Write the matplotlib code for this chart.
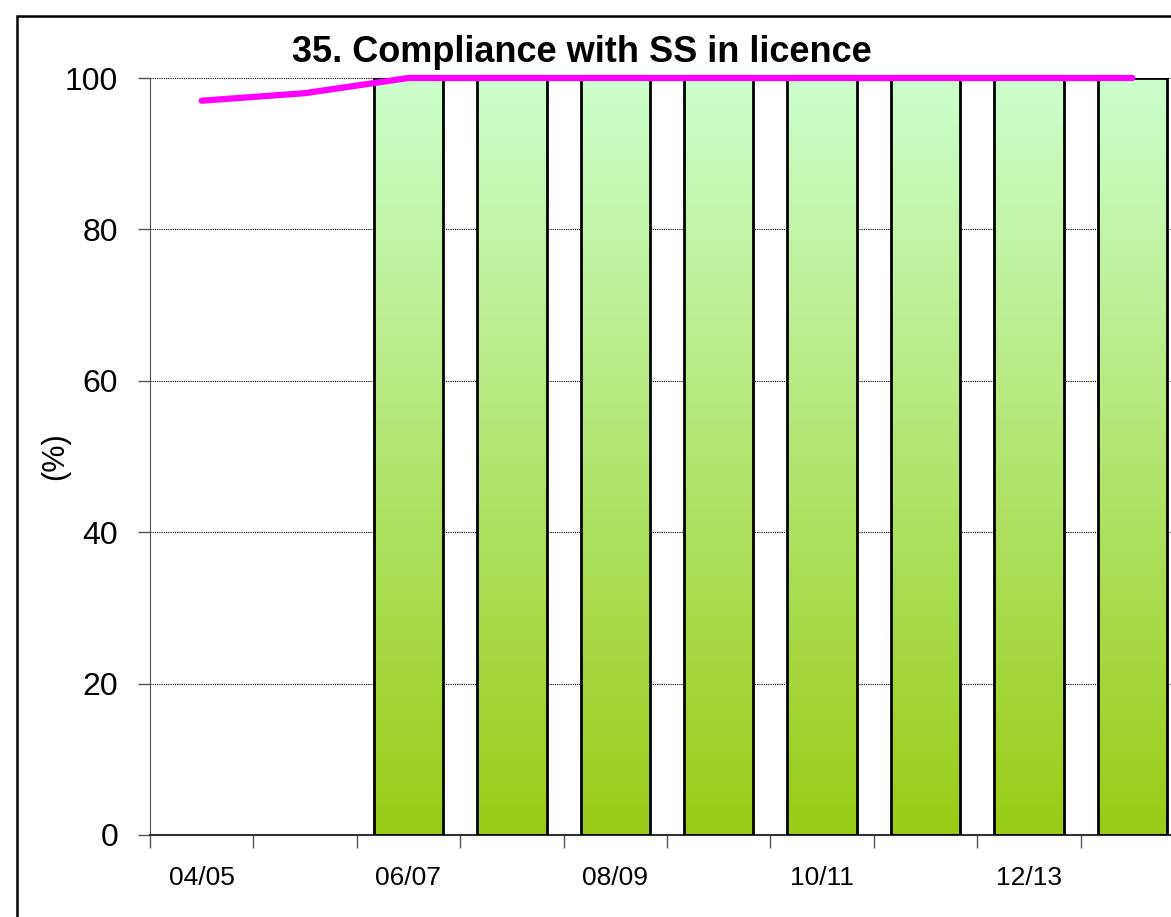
'''
35. Compliance with SS in licence - bars with a trend line
'''
import matplotlib
matplotlib.use('Agg')
import matplotlib.pyplot as plt
import numpy as np
from matplotlib.colors import LinearSegmentedColormap
from matplotlib.patches import Rectangle

## DATA
years = ['04/05', '05/06', '06/07', '07/08', '08/09',
         '09/10', '10/11', '11/12', '12/13', '13/14']
bar_vals = [np.nan, np.nan, 100, 100, 100, 100, 100, 100, 100, 100]
line_vals = [97, 98, 100, 100, 100, 100, 100, 100, 100, 100]
yticks = [0, 20, 40, 60, 80, 100]

plt.rcParams['font.family'] = ['Liberation Sans', 'DejaVu Sans']

fig = plt.figure(figsize=(11.71, 9.17), dpi=100)
## axes run past the right edge of the figure, as in the original
ax = fig.add_axes([150/1171, 82/917, 1034/1171, 757/917])

x = np.arange(len(years))
bw = 0.67

## gradient fill for the bars
cmap = LinearSegmentedColormap.from_list('grn', ['#99cc16', '#ccffcc'])
grad = np.linspace(0, 1, 256).reshape(-1, 1)
for xi, v in zip(x, bar_vals):
    if np.isnan(v):
        continue
    ax.imshow(grad, extent=[xi - bw/2, xi + bw/2, 0, v], origin='lower',
              cmap=cmap, aspect='auto', zorder=2)
ax.bar(x, bar_vals, width=bw, fill=False, edgecolor='black', linewidth=2.0, zorder=3)

ax.plot(x, line_vals, color='#ff00ff', linewidth=4.5, solid_capstyle='round',
        solid_joinstyle='round', zorder=5, clip_on=False)

ax.set_xlim(-0.5, len(years) - 0.5)
ax.set_ylim(0, 100)

## grid lines
for yv in yticks[1:]:
    ax.axhline(yv, color='black', linewidth=0.8, linestyle=(0, (1, 1)), zorder=1)

ax.set_yticks(yticks)
ax.set_yticklabels([str(t) for t in yticks], fontsize=23)
ax.tick_params('y', direction='out', length=9, width=1.0, color='#555555', pad=14)

ax.set_xticks(np.arange(-0.5, len(years), 1.0))
ax.set_xticklabels([])
ax.set_xticks(x[::2], minor=True)
ax.set_xticklabels(years[::2], minor=True, fontsize=19)
ax.tick_params('x', which='major', direction='out', length=9, width=1.0, color='#555555')
ax.tick_params('x', which='minor', length=0, pad=22)

for s in ['top', 'right']:
    ax.spines[s].set_visible(False)
ax.spines['left'].set_color('#555555')
ax.spines['bottom'].set_color('#333333')
ax.spines['bottom'].set_linewidth(1.5)

ax.set_ylabel('(%)', fontsize=22, labelpad=-4)

fig.text(582/1171, 1 - 53/917, '35. Compliance with SS in licence',
         ha='center', va='center', fontsize=26, fontweight='bold')

## outer border of the chart area (clipped at right and bottom)
fig.patches.append(Rectangle((17/1171, -0.05), 1.1, 1 - 16/917 + 0.05,
                             transform=fig.transFigure, fill=False,
                             edgecolor='black', linewidth=1.8))

plt.savefig('out.png', dpi=100)
plt.close(fig)
